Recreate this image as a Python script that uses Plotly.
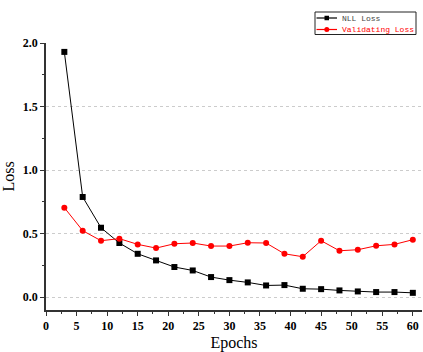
import plotly.graph_objects as go

epochs = [3, 6, 9, 12, 15, 18, 21, 24, 27, 30, 33, 36, 39, 42, 45, 48, 51, 54, 57, 60]
nll_loss = [1.93, 0.789, 0.547, 0.427, 0.342, 0.290, 0.238, 0.211, 0.159, 0.135,
            0.117, 0.093, 0.096, 0.067, 0.064, 0.054, 0.046, 0.041, 0.041, 0.035]
val_loss = [0.705, 0.524, 0.445, 0.461, 0.416, 0.387, 0.421, 0.427, 0.403, 0.403,
            0.429, 0.427, 0.342, 0.319, 0.445, 0.366, 0.374, 0.405, 0.416, 0.453]
series_names = ["NLL Loss", "Validating Loss"]
series_colors = ["black", "red"]

W, H = 423, 352
L, R, T, B = 46, 1, 43, 42
PW, PH = W - L - R, H - T - B

def px(x):
    return (x - L) / PW

def py(y):
    return (H - B - y) / PH

fig = go.Figure()
fig.add_trace(go.Scatter(x=epochs, y=nll_loss, mode="lines+markers", name=series_names[0],
                         line=dict(color=series_colors[0], width=1),
                         marker=dict(symbol="square", size=6, color=series_colors[0])))
fig.add_trace(go.Scatter(x=epochs, y=val_loss, mode="lines+markers", name=series_names[1],
                         line=dict(color=series_colors[1], width=1),
                         marker=dict(symbol="circle", size=6, color=series_colors[1])))

# custom compact legend
shapes = [dict(type="rect", xref="paper", yref="paper",
               x0=px(315), x1=px(416), y0=py(34.5), y1=py(12),
               line=dict(color="#222", width=1), fillcolor="white", layer="above")]
annotations = []
rows = [18, 29.5]
for i, (name, col) in enumerate(zip(series_names, series_colors)):
    yc = rows[i]
    shapes.append(dict(type="line", xref="paper", yref="paper",
                       x0=px(316.5), x1=px(337), y0=py(yc), y1=py(yc),
                       line=dict(color=col, width=1.2), layer="above"))
    if i == 0:
        shapes.append(dict(type="rect", xref="paper", yref="paper",
                           x0=px(324.5), x1=px(329), y0=py(yc + 2.25), y1=py(yc - 2.25),
                           line=dict(color=col, width=0), fillcolor=col, layer="above"))
    else:
        shapes.append(dict(type="circle", xref="paper", yref="paper",
                           x0=px(324.3), x1=px(329.3), y0=py(yc + 2.5), y1=py(yc - 2.5),
                           line=dict(color=col, width=0), fillcolor=col, layer="above"))
    annotations.append(dict(text=name, xref="paper", yref="paper", x=px(340), y=py(yc),
                            xanchor="left", yanchor="middle", showarrow=False,
                            font=dict(family="Liberation Mono", size=8,
                                      color="#444" if i == 0 else col)))

tickfont = dict(family="Liberation Serif", size=12, color="black", weight="bold")
fig.update_layout(
    width=W, height=H,
    margin=dict(l=L, r=R, t=T, b=B),
    plot_bgcolor="white", paper_bgcolor="white",
    showlegend=False,
    shapes=shapes, annotations=annotations,
    xaxis=dict(range=[0, 61.5], tickvals=list(range(0, 61, 5)), showgrid=False,
               showline=True, linecolor="#333", linewidth=1.5, automargin=False,
               ticks="outside", ticklen=4, tickcolor="#333",
               minor=dict(dtick=2.5, tick0=0, ticks="outside", ticklen=2, tickcolor="#333"),
               tickfont=tickfont, zeroline=False,
               title=dict(text="Epochs", font=dict(family="Liberation Serif", size=16, color="black"), standoff=6)),
    yaxis=dict(range=[-0.1, 2.0], tickvals=[0, 0.5, 1.0, 1.5, 2.0], tickformat=".1f",
               showgrid=True, gridcolor="#cccccc", griddash="dot", gridwidth=1,
               showline=True, linecolor="#333", linewidth=1.5, automargin=False,
               ticks="outside", ticklen=4, tickcolor="#333",
               minor=dict(dtick=0.25, tick0=0, ticks="outside", ticklen=2, tickcolor="#333", showgrid=False),
               tickfont=tickfont, zeroline=False,
               title=dict(text="Loss", font=dict(family="Liberation Serif", size=16, color="black"), standoff=4)),
)
fig.write_html("out.html")
